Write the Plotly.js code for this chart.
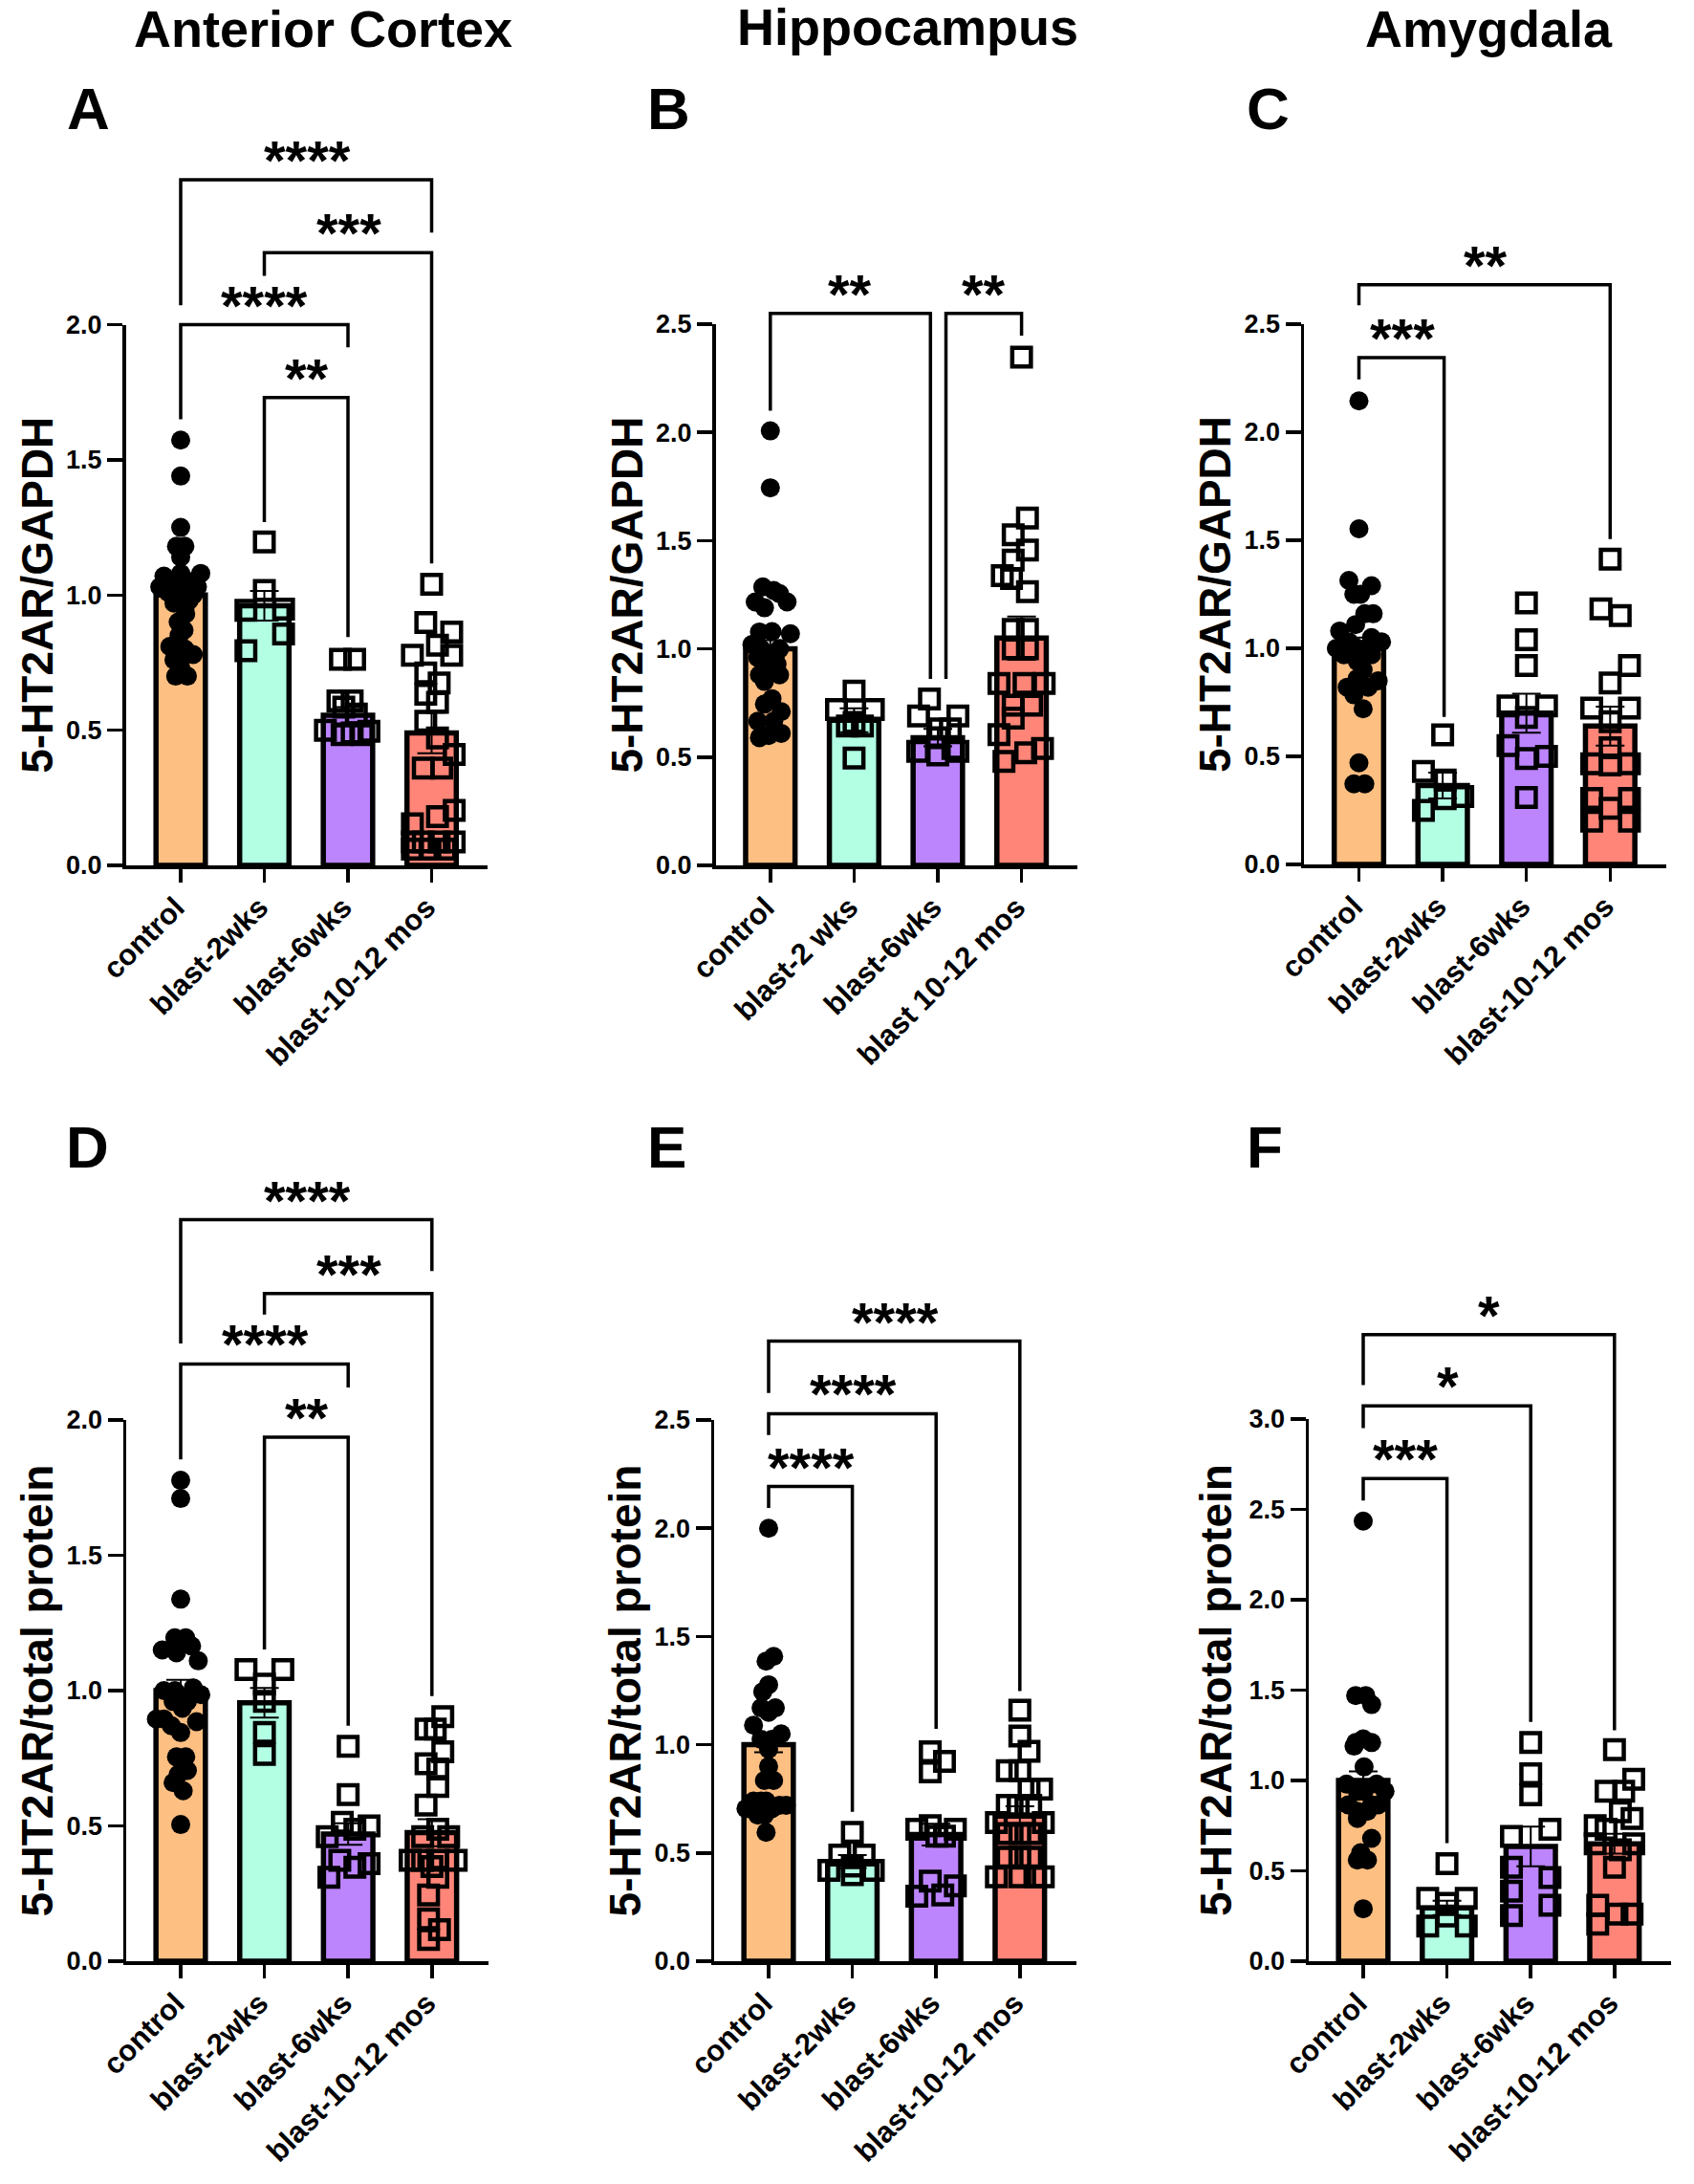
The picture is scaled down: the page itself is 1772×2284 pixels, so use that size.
<!DOCTYPE html>
<html><head><meta charset="utf-8">
<script src="https://cdn.plot.ly/plotly-3.0.1.min.js"></script>
<style>html,body{margin:0;padding:0;background:#fff}#c{width:1772px;height:2284px}</style>
</head><body><div id="c"></div>
<script>
// ---------- labels ----------
const labelsStd = ["control","blast-2wks","blast-6wks","blast-10-12 mos"];
const labelsB = ["control","blast-2 wks","blast-6wks","blast 10-12 mos"];
const yTitleGapdh = "5-HT2AR/GAPDH";
const yTitleProtein = "5-HT2AR/total protein";
const regionTitles = ["Anterior Cortex","Hippocampus","Amygdala"];
const barColors = ["#FDBF82","#B2FFE4","#BC85FE","#FF8578"];

// ---------- bar means and SEM ----------
const A_mean=[1.0,.96,.555,.49], A_err=[.04,.055,.03,.075];
const B_mean=[1.0,.67,.59,1.05], B_err=[.04,.055,.04,.1];
const C_mean=[1.0,.365,.70,.64], C_err=[.05,.06,.09,.09];
const D_mean=[1.0,.955,.47,.475], D_err=[.04,.055,.04,.05];
const E_mean=[1.0,.46,.585,.67], E_err=[.035,.03,.05,.045];
const F_mean=[1.0,.295,.635,.65], F_err=[.05,.04,.11,.055];

// ---------- individual points: values (y) and horizontal scatter (dx, in category units) ----------
const A0_y=[1.573,1.44,1.25,1.18,1.18,1.14,1.08,1.08,1.07,1.05,1.04,1.03,1.03,1.02,1.01,1.0,1.0,.98,.97,.95,.93,.9,.87,.85,.81,.8,.78,.77,.76,.73,.7,.7];
const A0_dx=[0,0,0,-.05,.05,0,.24,0,-.2,.1,-.1,.2,-.25,.05,-.15,.15,0,.1,-.08,.05,.06,-.03,.04,-.02,-.13,.05,.15,.02,-.08,0,-.06,.08];
const A1_y=[1.196,1.017,.943,.948,.856,.794];
const A1_dx=[0,0,-.22,.23,.23,-.22];
const A2_y=[.762,.762,.608,.608,.585,.56,.5,.496,.484,.484,.49];
const A2_dx=[-.09,.08,-.12,.05,-.05,.1,-.27,.25,-.07,.17,.05];
const A3_y=[1.04,.898,.863,.814,.777,.777,.712,.675,.633,.603,.533,.471,.41,.36,.36,.203,.18,.154,.087,.087,.087,.087,.06,.06,.06];
const A3_dx=[0,-.07,.24,.07,-.23,.24,-.07,.09,-.07,.07,-.07,.07,.27,-.1,.12,.27,.07,-.23,-.23,-.1,.09,.27,-.23,-.02,.16];

const B0_y=[2.007,1.744,1.286,1.27,1.255,1.217,1.217,1.19,1.078,1.07,1.08,1.02,1.0,1.0,.96,.96,.93,.9,.88,.88,.85,.77,.745,.71,.666,.666,.61,.59,.6];
const B0_dx=[0,0,-.09,.04,.11,-.18,.2,-.07,-.13,.24,.02,-.22,-.11,.11,-.15,.02,.08,-.05,-.13,.11,-.07,.02,-.07,.13,-.15,.04,.13,-.13,-.02];
const B1_y=[.805,.72,.72,.644,.644,.66,.496];
const B1_dx=[0,-.21,.23,-.08,.1,0,0];
const B2_y=[.768,.69,.69,.63,.63,.59,.527,.527,.51,.54];
const B2_dx=[-.1,-.23,.24,.02,.15,0,-.24,.24,0,.18];
const B3_y=[2.348,1.605,1.527,1.456,1.41,1.338,1.325,1.264,1.09,1.09,1.0,1.0,.84,.84,.84,.74,.74,.68,.604,.54,.52,.48];
const B3_dx=[0,.07,-.1,.07,-.1,-.23,-.12,.07,-.1,.07,-.1,.07,-.27,.03,.27,-.1,.12,-.1,-.27,.25,.05,-.21];

const C0_y=[2.145,1.553,1.314,1.29,1.25,1.25,1.16,1.16,1.11,1.08,1.05,1.03,1.03,1.0,1.0,1.0,.97,.97,.94,.9,.86,.85,.82,.82,.785,.72,.47,.373,.373];
const C0_dx=[0,0,-.12,.15,-.06,.02,.07,.17,-.04,-.23,.15,-.12,.27,-.27,-.02,.09,-.18,.15,-.02,.05,-.02,.23,.11,-.14,-.06,.05,0,-.06,.07];
const C1_y=[.6,.43,.39,.314,.304,.25];
const C1_dx=[0,-.23,.03,.24,.03,-.23];
const C2_y=[1.21,1.04,.92,.733,.733,.68,.55,.5,.49,.31];
const C2_dx=[0,0,0,-.22,.24,0,-.22,.24,0,0];
const C3_y=[1.413,1.183,1.152,.92,.84,.724,.724,.66,.54,.466,.466,.46,.305,.305,.26,.2,.2];
const C3_dx=[0,-.11,.12,.23,0,-.22,.23,0,0,-.22,.23,0,-.22,.23,0,-.22,.23];

const D0_y=[1.777,1.71,1.338,1.195,1.195,1.15,1.165,1.14,1.11,1.01,1.0,1.0,.985,.96,.96,.935,.895,.895,.885,.87,.845,.755,.755,.705,.69,.66,.63,.505];
const D0_dx=[0,0,0,-.07,.06,-.22,.13,-.05,.21,.15,-.2,-.07,.24,-.09,.08,.02,-.29,-.2,.19,-.11,0,.06,-.05,.08,-.03,-.09,.03,0];
const D1_y=[1.078,1.078,1.024,.96,.845,.764];
const D1_dx=[-.22,.22,0,0,0,0];
const D2_y=[.794,.616,.513,.5,.488,.46,.373,.347,.36,.31];
const D2_dx=[0,0,-.07,.25,.08,-.25,-.1,.08,.25,-.23];
const D3_y=[.904,.858,.858,.774,.73,.71,.646,.577,.488,.46,.46,.373,.373,.373,.373,.35,.31,.245,.156,.117,.08];
const D3_dx=[.13,-.07,.04,.13,-.07,.07,.07,-.07,.07,-.11,.2,-.26,-.11,.07,.29,0,.07,-.04,-.04,.09,-.04];

const E0_y=[2.0,1.408,1.386,1.277,1.245,1.17,1.17,1.15,1.09,1.05,1.025,1.025,.98,.9,.835,.835,.74,.74,.74,.72,.72,.705,.705,.675,.675,.595];
const E0_dx=[0,.06,-.03,0,-.07,-.09,.08,0,-.18,.15,-.09,.04,0,0,-.05,.06,-.18,-.09,-.03,.21,.13,.04,-.27,-.13,-.05,-.03];
const E1_y=[.595,.49,.49,.44,.42,.42,.40];
const E1_dx=[0,-.15,.14,0,-.28,.25,0];
const E2_y=[.967,.923,.875,.626,.61,.61,.578,.578,.37,.348,.306,.30];
const E2_dx=[-.07,.1,-.07,-.07,-.23,.23,.01,.1,-.07,.23,.08,-.23];
const E3_y=[1.16,1.04,.97,.88,.88,.795,.795,.72,.72,.72,.64,.64,.59,.59,.59,.48,.48,.48,.39,.39,.39,.39];
const E3_dx=[0,0,.11,-.15,0,.11,.26,-.15,-.02,.13,-.28,.28,-.15,0,.13,-.15,0,.13,-.28,.28,0,.18];

const F0_y=[2.435,1.47,1.47,1.42,1.23,1.21,1.21,1.19,1.075,.98,.98,.94,.94,.94,.865,.865,.865,.83,.83,.79,.68,.6,.56,.56,.29];
const F0_dx=[0,-.09,.03,.1,0,-.09,.1,-.11,.01,-.2,.16,.01,-.07,.26,-.18,.1,.18,-.07,.05,-.07,.1,-.03,-.07,.05,0];
const F1_y=[.54,.348,.348,.32,.25,.195,.195];
const F1_dx=[0,-.23,.23,0,0,-.23,.23];
const F2_y=[1.21,1.037,.92,.73,.69,.52,.463,.387,.31,.253];
const F2_dx=[0,0,0,.23,-.23,-.23,.23,-.23,.23,-.23];
const F3_y=[1.17,1.007,.94,.94,.827,.79,.75,.73,.65,.65,.616,.52,.31,.26,.26,.205];
const F3_dx=[0,.23,-.1,.11,.07,.21,-.23,-.1,-.23,.23,.07,0,-.2,.03,.21,-.2];

// ---------- significance brackets: [xLeft, xRight, yBar, yLeftEnd, yRightEnd, xStars, stars] ----------
const A_brackets=[[0,3,2.536,2.072,2.34,1.51,"****"],[1,3,2.266,2.18,1.117,2.01,"***"],[0,2,2.0,1.65,1.916,1.0,"****"],[1,2,1.73,1.27,.844,1.51,"**"]];
const B_brackets=[[0,1.912,2.55,2.10,.861,.954,"**"],[2.097,3,2.55,.861,2.447,2.55,"**"]];
const C_brackets=[[0,3,2.683,2.587,1.506,1.51,"**"],[0,1.017,2.345,2.245,.683,.515,"***"]];
const D_brackets=[[0,3,2.74,2.283,2.55,1.51,"****"],[1,3,2.467,2.39,.98,2.01,"***"],[0,2,2.207,1.854,2.12,1.01,"****"],[1,2,1.936,1.152,.87,1.51,"**"]];
const E_brackets=[[0,3,2.864,2.625,1.248,1.51,"****"],[0,2,2.529,2.43,1.073,1.01,"****"],[0,1,2.193,2.094,.69,.513,"****"]];
const F_brackets=[[0,3,3.467,3.188,1.278,1.498,"*"],[0,2,3.073,2.95,1.324,1.008,"*"],[0,1,2.671,2.549,.654,.506,"***"]];

// ---------- page geometry (pixels) ----------
const W=1772,H=2284,FONT='"Liberation Sans", Arial, sans-serif',HEADROOM=300;
const panels=[
 {id:'A',ax:'',x0:131.5,x1:510,c0:189,sp:87.5,top:339.5,bot:905,ymax:2.0,dt:.5,labels:labelsStd,yt:yTitleGapdh,sets:[[A0_y,A0_dx],[A1_y,A1_dx],[A2_y,A2_dx],[A3_y,A3_dx]],m:A_mean,e:A_err,br:A_brackets,lx:68,ly:133,so:0},
 {id:'B',ax:'2',x0:748.5,x1:1127,c0:805.8,sp:87.6,top:339,bot:905,ymax:2.5,dt:.5,labels:labelsB,yt:yTitleGapdh,sets:[[B0_y,B0_dx],[B1_y,B1_dx],[B2_y,B2_dx],[B3_y,B3_dx]],m:B_mean,e:B_err,br:B_brackets,lx:675,ly:133,so:0},
 {id:'C',ax:'3',x0:1364,x1:1743,c0:1421.5,sp:87.6,top:339,bot:904,ymax:2.5,dt:.5,labels:labelsStd,yt:yTitleGapdh,sets:[[C0_y,C0_dx],[C1_y,C1_dx],[C2_y,C2_dx],[C3_y,C3_dx]],m:C_mean,e:C_err,br:C_brackets,lx:1302,ly:133,so:0},
 {id:'D',ax:'4',x0:132,x1:511,c0:189,sp:87.6,top:1485,bot:2051,ymax:2.0,dt:.5,labels:labelsStd,yt:yTitleProtein,sets:[[D0_y,D0_dx],[D1_y,D1_dx],[D2_y,D2_dx],[D3_y,D3_dx]],m:D_mean,e:D_err,br:D_brackets,lx:67,ly:1219,so:0},
 {id:'E',ax:'5',x0:747,x1:1126,c0:804,sp:87.6,top:1485,bot:2051,ymax:2.5,dt:.5,labels:labelsStd,yt:yTitleProtein,sets:[[E0_y,E0_dx],[E1_y,E1_dx],[E2_y,E2_dx],[E3_y,E3_dx]],m:E_mean,e:E_err,br:E_brackets,lx:675,ly:1219,so:0},
 {id:'F',ax:'6',x0:1369,x1:1748,c0:1426,sp:87.6,top:1484,bot:2051,ymax:3.0,dt:.5,labels:labelsStd,yt:yTitleProtein,sets:[[F0_y,F0_dx],[F1_y,F1_dx],[F2_y,F2_dx],[F3_y,F3_dx]],m:F_mean,e:F_err,br:F_brackets,lx:1302,ly:1219,so:4}
];
const regionPos=[{x:338,y:47.7},{x:949,y:45},{x:1557,y:47.7}];

const traces=[],annotations=[];
const layout={width:W,height:H,margin:{l:0,r:0,t:0,b:0},paper_bgcolor:'#fff',plot_bgcolor:'rgba(0,0,0,0)',showlegend:false,annotations,font:{family:FONT,color:'#000'}};

const px=(x)=>x/W, py=(y)=>1-y/H;
function paperText(text,x,yBase,size,xanchor){
  annotations.push({text:`<b>${text}</b>`,xref:'paper',yref:'paper',x:px(x),y:py(yBase),xanchor,yanchor:'bottom',yshift:-size*0.27,showarrow:false,font:{family:FONT,size,color:'#000'}});
}
regionTitles.forEach((t,i)=>paperText(t,regionPos[i].x,regionPos[i].y,54,'center'));

panels.forEach((p,idx)=>{
  const xa='x'+p.ax, ya='y'+p.ax, xk='xaxis'+p.ax, yk='yaxis'+p.ax;
  // same data scale as the visible y axis, carried up above it so that brackets and stars can sit over the panel
  const yb='y'+(idx+7), ybk='yaxis'+(idx+7);
  layout[xk]={domain:[px(p.x0),px(p.x1)],range:[-(p.c0-p.x0)/p.sp,(p.x1-p.c0)/p.sp],anchor:ya,
    tickmode:'array',tickvals:[0,1,2,3],ticktext:p.labels,tickangle:-45,ticks:'outside',ticklen:14,tickwidth:3.5,tickcolor:'#000',ticklabelshift:-5,ticklabelstandoff:-4,
    showline:true,linewidth:3.5,linecolor:'#000',showgrid:false,zeroline:false,tickfont:{family:FONT,size:31,color:'#000',weight:'bold'},automargin:false};
  layout[yk]={domain:[py(p.bot),py(p.top)],range:[0,p.ymax],anchor:xa,
    tickmode:'linear',tick0:0,dtick:p.dt,tickformat:'.1f',ticks:'outside',ticklen:16,tickwidth:3.5,tickcolor:'#000',
    showline:true,linewidth:3.5,linecolor:'#000',showgrid:false,zeroline:false,tickfont:{family:FONT,size:27,color:'#000',weight:'bold'},
    title:{text:`<b>${p.yt}</b>`,standoff:p.so,font:{family:FONT,size:46,color:'#000'}},automargin:false};
  layout[ybk]={domain:[py(p.bot),py(p.top-HEADROOM)],range:[0,p.ymax*(p.bot-p.top+HEADROOM)/(p.bot-p.top)],anchor:xa,visible:false,showgrid:false,zeroline:false};
  traces.push({type:'bar',x:[0,1,2,3],y:p.m,width:.59,xaxis:xa,yaxis:ya,hoverinfo:'skip',
    marker:{color:barColors,line:{color:'#000',width:5.5}},
    error_y:{type:'data',array:p.e,visible:true,color:'#000',thickness:2,width:15}});
  p.sets.forEach((s,i)=>{
    traces.push({type:'scatter',mode:'markers',x:s[1].map(d=>i+d),y:s[0],xaxis:xa,yaxis:ya,cliponaxis:false,hoverinfo:'skip',
      marker: i===0 ? {symbol:'circle',size:20,color:'#000',line:{width:0}}
                    : {symbol:'square-open',size:19.5,color:'#000',line:{color:'#000',width:4.5}}});
  });
  p.br.forEach(b=>{
    traces.push({type:'scatter',mode:'lines',x:[b[0],b[0],b[1],b[1]],y:[b[3],b[2],b[2],b[4]],xaxis:xa,yaxis:yb,cliponaxis:false,hoverinfo:'skip',
      line:{color:'#000',width:3.5,shape:'linear'}});
    annotations.push({text:`<b>${b[6]}</b>`,xref:xa,yref:yb,x:b[5],y:b[2],xanchor:'center',yanchor:'bottom',yshift:-14,showarrow:false,font:{family:FONT,size:58,color:'#000'}});
  });
  paperText(p.id,p.lx,p.ly,62,'left');
});
Plotly.newPlot('c',traces,layout,{staticPlot:true,displayModeBar:false});
</script></body></html>
